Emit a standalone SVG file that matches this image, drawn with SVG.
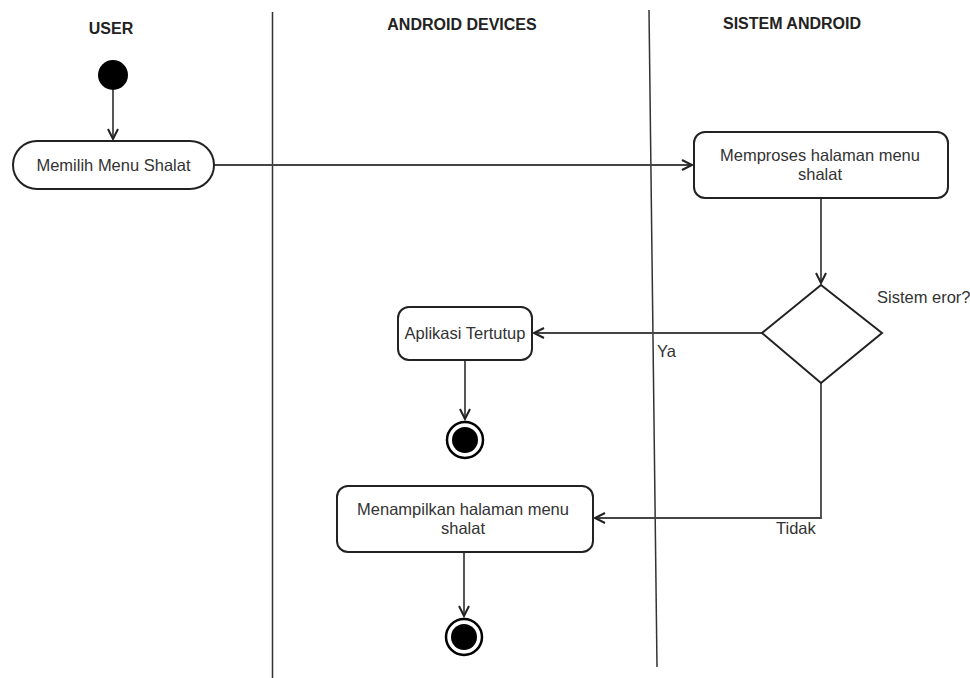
<svg xmlns="http://www.w3.org/2000/svg" width="970" height="678" viewBox="0 0 970 678">
<style>
.hdr{font-family:"Liberation Sans",Arial,sans-serif;font-size:16px;font-weight:bold;fill:#222;text-anchor:middle}
.lbl{font-family:"Liberation Sans",Arial,sans-serif;font-size:16.5px;fill:#333}
.mid{text-anchor:middle}
.box{fill:#fff;stroke:#222;stroke-width:2}
.lane{stroke:#333;stroke-width:1.5;fill:none}
.conn{stroke:#444;stroke-width:1.8;fill:none}
</style>
<defs>
<marker id="arr" markerWidth="14" markerHeight="14" refX="11" refY="6" orient="auto" markerUnits="userSpaceOnUse">
<path d="M1,1 L11,6 L1,11" fill="none" stroke="#222" stroke-width="2"/>
</marker>
</defs>
<rect width="970" height="678" fill="#fff"/>
<g id="lanes">
<line class="lane" x1="272.5" y1="12" x2="272.5" y2="678"/>
<line class="lane" x1="649" y1="10" x2="657" y2="667"/>
<text class="hdr" x="111" y="34">USER</text>
<text class="hdr" x="462" y="30">ANDROID DEVICES</text>
<text class="hdr" x="792" y="29">SISTEM ANDROID</text>
</g>
<g id="connectors">
<line class="conn" x1="113" y1="90" x2="113" y2="139" marker-end="url(#arr)"/>
<line class="conn" x1="214" y1="165" x2="692" y2="165" marker-end="url(#arr)"/>
<line class="conn" x1="821" y1="198" x2="821" y2="283" marker-end="url(#arr)"/>
<line class="conn" x1="762" y1="333" x2="534" y2="333" marker-end="url(#arr)"/>
<line class="conn" x1="465" y1="360" x2="465" y2="419" marker-end="url(#arr)"/>
<polyline class="conn" points="821,383 821,518 595,518" marker-end="url(#arr)"/>
<line class="conn" x1="464" y1="552" x2="464" y2="616" marker-end="url(#arr)"/>
<text class="lbl" x="657" y="357">Ya</text>
<text class="lbl" x="776" y="534">Tidak</text>
</g>
<g id="start">
<circle cx="113" cy="75" r="15" fill="#000"/>
</g>
<g id="memilih">
<rect class="box" x="13" y="141" width="201" height="48" rx="24"/>
<text class="lbl mid" x="113.5" y="171">Memilih Menu Shalat</text>
</g>
<g id="memproses">
<rect class="box" x="694" y="132" width="254" height="66" rx="11"/>
<text class="lbl mid" x="820" y="161">Memproses halaman menu</text>
<text class="lbl mid" x="820" y="180">shalat</text>
</g>
<g id="decision">
<polygon class="box" points="821,285 882,333 821,383 762,333"/>
<text class="lbl" x="877" y="303">Sistem eror?</text>
</g>
<g id="aplikasi">
<rect class="box" x="398" y="307" width="134" height="53" rx="11"/>
<text class="lbl mid" x="465" y="339">Aplikasi Tertutup</text>
</g>
<g id="end1">
<circle cx="465" cy="440" r="18" fill="#fff" stroke="#000" stroke-width="2.5"/>
<circle cx="465" cy="440" r="13" fill="#000"/>
</g>
<g id="menampilkan">
<rect class="box" x="337" y="486" width="256" height="66" rx="11"/>
<text class="lbl mid" x="463" y="515">Menampilkan halaman menu</text>
<text class="lbl mid" x="463" y="534">shalat</text>
</g>
<g id="end2">
<circle cx="464" cy="637" r="18" fill="#fff" stroke="#000" stroke-width="2.5"/>
<circle cx="464" cy="637" r="13" fill="#000"/>
</g>
</svg>
